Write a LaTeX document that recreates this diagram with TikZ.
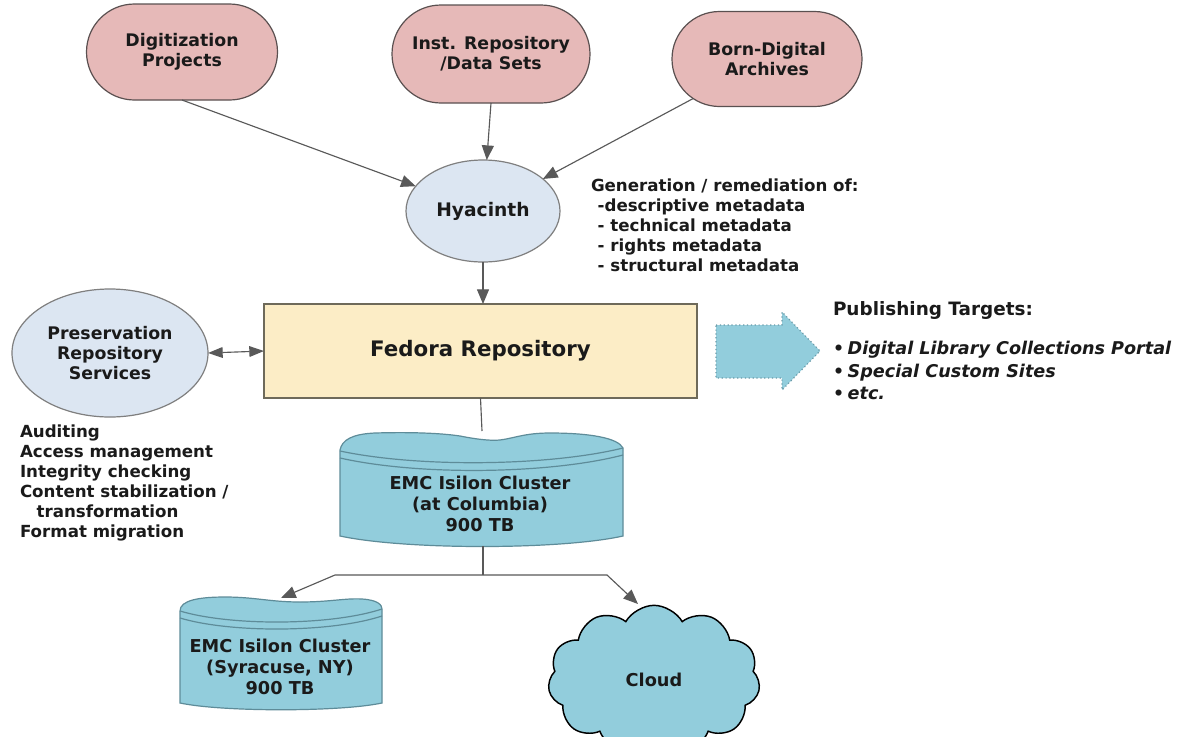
\documentclass[tikz,border=0pt]{standalone}
\usepackage{fontspec}
\setmainfont{DejaVu Sans}
\usetikzlibrary{shapes.misc,shapes.symbols,shapes.geometric,arrows.meta,calc}
\definecolor{pinkfill}{HTML}{E6B9B8}
\definecolor{pinkline}{HTML}{5A5050}
\definecolor{ovalfill}{HTML}{DCE6F2}
\definecolor{ovalline}{HTML}{7F7F7F}
\definecolor{fedfill}{HTML}{FCEDC6}
\definecolor{fedline}{HTML}{6E6A5A}
\definecolor{cylfill}{HTML}{92CDDC}
\definecolor{cylline}{HTML}{5E8C99}
\definecolor{publine}{HTML}{6A9AA8}
\definecolor{connc}{HTML}{595959}
\definecolor{txt}{HTML}{1A1A1A}
\newcommand{\smallbul}{\makebox[11pt][l]{\upshape\fontsize{13}{13}\selectfont\textbullet}}
\begin{document}
\begin{tikzpicture}[x=0.75pt,y=-0.75pt,
  every node/.style={font=\bfseries\fontsize{12.5}{15}\selectfont, text=txt, inner sep=0pt, outer sep=0pt},
  src/.style={rounded rectangle, draw=pinkline, fill=pinkfill, line width=0.9pt, align=center,
    font=\bfseries\fontsize{13}{15}\selectfont},
  oval/.style={ellipse, draw=ovalline, fill=ovalfill, line width=0.9pt, align=center,
    font=\bfseries\fontsize{13}{15}\selectfont},
  arr/.style={draw=connc, line width=0.85pt, -{Triangle[length=11pt,width=9pt]}},
  darr/.style={draw=connc, line width=0.85pt, {Triangle[length=11pt,width=8pt]}-{Triangle[length=11pt,width=8pt]}},
  plain/.style={draw=connc, line width=0.85pt},
  cyl/.style={fill=cylfill, draw=cylline, line width=0.9pt},
  lid/.style={draw=cylline, line width=0.9pt},
  cyltext/.style={align=center, font=\bfseries\fontsize{13.3}{15.75}\selectfont},
  note/.style={align=left, anchor=north west}]

\useasboundingbox[fill=white] (0,0) rectangle (1177,736);

% source nodes
\node[src, minimum width=143.25pt, minimum height=72pt] (dig) at (182,52) {Digitization\\Projects};
\node[src, minimum width=148.5pt, minimum height=73.5pt] (inst) at (491,54) {Inst. Repository\\/Data Sets};
\node[src, minimum width=142.5pt, minimum height=71.25pt] (born) at (767,59) {Born-Digital\\Archives};

\node[oval, minimum width=115.5pt, minimum height=76.5pt, font=\bfseries\fontsize{14}{16}\selectfont] (hy) at (483,211) {Hyacinth};
\node[oval, minimum width=147pt, minimum height=96pt] (pres) at (110,353) {Preservation\\Repository\\Services};

\node[draw=fedline, fill=fedfill, line width=0.9pt, minimum width=324.75pt, minimum height=70.5pt,
      font=\bfseries\fontsize{16}{19}\selectfont] (fed) at (480.5,351) {Fedora Repository};

% notes
\node[note] (gen) at (591,179) {Generation / remediation of:\\
  \hspace*{5pt}-descriptive metadata\\
  \hspace*{5pt}- technical metadata\\
  \hspace*{5pt}- rights metadata\\
  \hspace*{5pt}- structural metadata};

\node[note] (plist) at (20,425) {Auditing\\Access management\\Integrity checking\\Content stabilization /\\
  \hspace*{12.5pt}transformation\\Format migration};

% publishing
\draw[fill=cylfill, draw=publine, line width=0.9pt, dotted]
  (716,325) -- (782,325) -- (782,312) -- (820,351) -- (782,390) -- (782,378) -- (716,378) -- cycle;
\node[anchor=west, font=\bfseries\fontsize{13.8}{16}\selectfont] (pubt) at (833,310) {Publishing Targets:};
\node[note, font=\bfseries\itshape\fontsize{13.2}{17}\selectfont] (publ) at (833,341)
  {\smallbul Digital Library Collections Portal\\
   \smallbul Special Custom Sites\\
   \smallbul etc.};

% Columbia cylinder
\path[cyl] (340,450) .. controls (342,440) and (352,434) .. (375,433)
  .. controls (410,432) and (440,433) .. (460,436)
  .. controls (475,439) and (490,441) .. (500,440)
  .. controls (515,438) and (525,433) .. (550,433)
  .. controls (590,433) and (618,438) .. (623,448)
  -- (623,536) .. controls (560,550) and (405,550) .. (340,536) -- cycle;
\draw[lid] (340,451) .. controls (420,468) and (550,466) .. (623,448);
\draw[lid] (340,458) .. controls (420,476) and (550,474) .. (623,455);
\node[cyltext] (col) at (480,504) {EMC Isilon Cluster\\(at Columbia)\\900 TB};
\coordinate (coltop) at (482,431);
\coordinate (colbot) at (483,546);

% Syracuse cylinder
\path[cyl] (180,611) .. controls (180,600) and (200,597) .. (225,597)
  .. controls (255,597) and (270,602) .. (300,602)
  .. controls (330,602) and (345,598) .. (362,599)
  .. controls (378,600) and (382,605) .. (382,609)
  -- (382,703) .. controls (340,712) and (222,712) .. (180,703) -- cycle;
\draw[lid] (180,611) .. controls (230,626) and (330,626) .. (382,609);
\draw[lid] (180,618) .. controls (230,633) and (330,633) .. (382,616);
\node[cyltext] (syr) at (280,667) {EMC Isilon Cluster\\(Syracuse, NY)\\900 TB};
\coordinate (syrtop) at (281,598);

% cloud
\node[cloud, cloud puffs=11, cloud puff arc=120, aspect=1.5, draw=black, fill=cylfill, line width=1.1pt,
      minimum width=159pt, minimum height=112pt, font=\bfseries\fontsize{13.3}{15}\selectfont] (cloud) at (654,680) {Cloud};
\coordinate (cloudin) at (638,604);

% connectors
\draw[arr] (dig.south) -- (hy);
\draw[arr] (inst.south) -- (hy);
\draw[arr] (born) -- (hy);
\draw[arr] (hy.south) -- (hy.south |- fed.north);
\draw[darr] (pres.east) -- (fed.west);
\draw[plain] (fed.south) -- (coltop);
\coordinate (junc) at (483,575);
\coordinate (jl) at (335,575);
\coordinate (jr) at (607,575);
\draw[plain] (colbot) -- (junc);
\draw[arr] (junc) -- (jl) -- (syrtop);
\draw[arr] (junc) -- (jr) -- (cloudin);
\end{tikzpicture}
\end{document}
